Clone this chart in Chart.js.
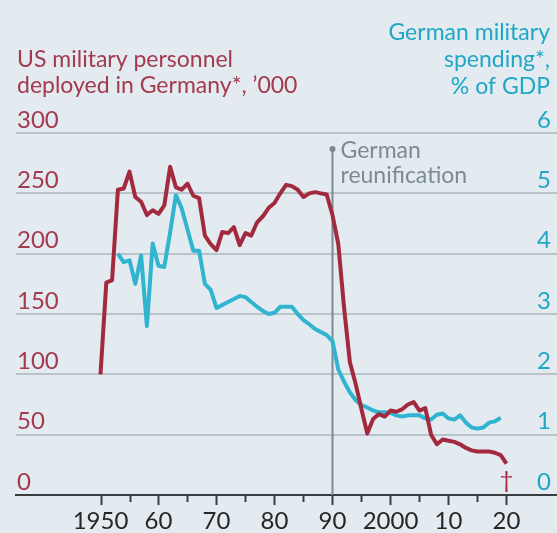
<!DOCTYPE html>
<html>
<head>
<meta charset="utf-8">
<script src="https://cdn.jsdelivr.net/npm/chart.js@4/dist/chart.umd.min.js"></script>
<style>
  html, body { margin: 0; padding: 0; background: #e3ebf1; }
  #wrap { width: 557px; height: 533px; }
</style>
</head>
<body>
<div id="wrap"><canvas id="myChart" width="557" height="533"></canvas></div>
<script>
// US military personnel deployed in Germany, '000
const usYears = [1950, 1951, 1952, 1953, 1954, 1955, 1956, 1957, 1958, 1959,
  1960, 1961, 1962, 1963, 1964, 1965, 1966, 1967, 1968, 1969,
  1970, 1971, 1972, 1973, 1974, 1975, 1976, 1977, 1978, 1979,
  1980, 1981, 1982, 1983, 1984, 1985, 1986, 1987, 1988, 1989,
  1990, 1991, 1992, 1993, 1994, 1995, 1996, 1997, 1998, 1999,
  2000, 2001, 2002, 2003, 2004, 2005, 2006, 2007, 2008, 2009,
  2010, 2011, 2012, 2013, 2014, 2015, 2016, 2017, 2018, 2019, 2020];
const usTroops = [100, 176, 178, 253, 254, 268, 247, 243, 232, 236,
  233, 240, 272, 255, 253, 258, 248, 246, 215, 208,
  203, 218, 217, 222, 207, 217, 215, 226, 231, 238,
  242, 250, 257, 256, 253, 247, 250, 251, 250, 249,
  232, 208, 155, 110, 92, 71, 51, 63, 67, 65,
  70, 69, 71, 75, 77, 70, 72, 50, 42, 46,
  45, 44, 42, 39, 37, 36, 36, 36, 35, 33, 26];

// German military spending, % of GDP
const deYears = [1953, 1954, 1955, 1956, 1957, 1958, 1959,
  1960, 1961, 1962, 1963, 1964, 1965, 1966, 1967, 1968, 1969,
  1970, 1971, 1972, 1973, 1974, 1975, 1976, 1977, 1978, 1979,
  1980, 1981, 1982, 1983, 1984, 1985, 1986, 1987, 1988, 1989,
  1990, 1991, 1992, 1993, 1994, 1995, 1996, 1997, 1998, 1999,
  2000, 2001, 2002, 2003, 2004, 2005, 2006, 2007, 2008, 2009,
  2010, 2011, 2012, 2013, 2014, 2015, 2016, 2017, 2018, 2019];
const deSpending = [4.0, 3.86, 3.89, 3.5, 3.97, 2.8, 4.17,
  3.8, 3.78, 4.35, 4.97, 4.75, 4.4, 4.05, 4.05, 3.5, 3.4,
  3.1, 3.15, 3.2, 3.25, 3.3, 3.28, 3.2, 3.12, 3.05, 3.0,
  3.02, 3.12, 3.12, 3.12, 3.0, 2.9, 2.83, 2.75, 2.7, 2.65,
  2.55, 2.08, 1.88, 1.7, 1.57, 1.49, 1.45, 1.4, 1.37, 1.37,
  1.36, 1.32, 1.3, 1.32, 1.32, 1.32, 1.27, 1.25, 1.33, 1.35,
  1.27, 1.25, 1.32, 1.2, 1.12, 1.1, 1.12, 1.2, 1.22, 1.28];

const xTickYears = [1950, 1960, 1970, 1980, 1990, 2000, 2010, 2020];
const xTickLabels = ['1950', '60', '70', '80', '90', '2000', '10', '20'];
const leftTicks = [0, 50, 100, 150, 200, 250, 300];
const rightTicks = [0, 1, 2, 3, 4, 5, 6];
const reunificationYear = 1990;

const RED = '#a3293f';
const RED_TEXT = '#a33a4d';
const CYAN = '#30b4cf';
const CYAN_TEXT = '#1ea7c6';
const GRID = '#b9c3ca';
const AXIS = '#3a3d40';
const NOTE = '#7b8a94';
const FONT = "'Lato', sans-serif";

const decor = {
  id: 'decor',
  beforeDraw(chart) {
    const ctx = chart.ctx;
    ctx.save();
    ctx.fillStyle = '#e3ebf1';
    ctx.fillRect(0, 0, chart.width, chart.height);
    ctx.restore();
  },
  beforeDatasetsDraw(chart) {
    const ctx = chart.ctx;
    const x = chart.scales.x;
    const area = chart.chartArea;
    const px = Math.round(x.getPixelForValue(reunificationYear)) + 0.5;
    ctx.save();
    ctx.strokeStyle = NOTE;
    ctx.lineWidth = 2;
    ctx.beginPath();
    ctx.moveTo(px, 149);
    ctx.lineTo(px, area.bottom);
    ctx.stroke();
    ctx.fillStyle = NOTE;
    ctx.beginPath();
    ctx.arc(px, 149, 3, 0, Math.PI * 2);
    ctx.fill();
    ctx.font = '23px ' + FONT;
    ctx.textAlign = 'left';
    ctx.textBaseline = 'alphabetic';
    ctx.fillText('German', px + 8, 158);
    ctx.fillText('reunification', px + 8, 183);
    ctx.restore();
  },
  afterDraw(chart) {
    const ctx = chart.ctx;
    const x = chart.scales.x;
    const y1 = chart.scales.y1;
    const area = chart.chartArea;
    ctx.save();
    // tick marks below the axis
    ctx.strokeStyle = AXIS;
    ctx.lineWidth = 2;
    for (let yr = 1950; yr <= 2020; yr += 5) {
      const px = Math.round(x.getPixelForValue(yr)) + 0.5;
      const len = yr % 10 === 0 ? 10 : 7;
      ctx.beginPath();
      ctx.moveTo(px, area.bottom);
      ctx.lineTo(px, area.bottom + len);
      ctx.stroke();
    }
    // right-hand axis labels
    ctx.font = '24px ' + FONT;
    ctx.fillStyle = CYAN_TEXT;
    ctx.textAlign = 'right';
    ctx.textBaseline = 'middle';
    rightTicks.forEach(v => {
      ctx.fillText(String(v), 551, y1.getPixelForValue(v) - 13);
    });
    // titles
    ctx.font = '23px ' + FONT;
    ctx.textBaseline = 'alphabetic';
    ctx.fillStyle = RED_TEXT;
    ctx.textAlign = 'left';
    ctx.fillText('US military personnel', 17, 67);
    ctx.fillText('deployed in Germany*, \u2019000', 17, 93);
    ctx.fillStyle = CYAN_TEXT;
    ctx.textAlign = 'right';
    ctx.fillText('German military', 550, 40);
    ctx.fillText('spending*,', 550, 67);
    ctx.fillText('% of GDP', 550, 94);
    // dagger note at the last year
    ctx.fillStyle = RED;
    ctx.textAlign = 'center';
    ctx.font = '24px ' + FONT;
    ctx.fillText('\u2020', x.getPixelForValue(2020), 488);
    ctx.restore();
  }
};

new Chart('myChart', {
  type: 'line',
  data: {
    datasets: [{
      label: 'US military personnel',
      data: usYears.map((yr, i) => ({ x: yr, y: usTroops[i] })),
      yAxisID: 'y',
      borderColor: RED,
      borderWidth: 4,
      borderJoinStyle: 'round',
      pointRadius: 0,
      tension: 0
    }, {
      label: 'German military spending',
      data: deYears.map((yr, i) => ({ x: yr, y: deSpending[i] })),
      yAxisID: 'y1',
      borderColor: CYAN,
      borderWidth: 4,
      borderJoinStyle: 'round',
      pointRadius: 0,
      tension: 0
    }]
  },
  options: {
    responsive: false,
    animation: false,
    layout: { padding: { left: 16, top: 133, right: 0, bottom: 0 } },
    plugins: {
      legend: { display: false },
      tooltip: { enabled: false }
    },
    scales: {
      x: {
        type: 'linear',
        min: 1935.43,
        max: 2028.71,
        afterBuildTicks: s => { s.ticks = xTickYears.map(v => ({ value: v })); },
        afterFit: s => { s.height = 38; },
        grid: { display: true, drawOnChartArea: false, drawTicks: false },
        border: { display: true, color: AXIS, width: 2 },
        ticks: {
          padding: 12,
          maxRotation: 0,
          autoSkip: false,
          color: '#262626',
          font: { family: FONT, size: 24 },
          callback: v => xTickLabels[xTickYears.indexOf(v)]
        }
      },
      y: {
        position: 'left',
        min: 0,
        max: 300,
        afterBuildTicks: s => { s.ticks = leftTicks.map(v => ({ value: v })); },
        afterFit: s => { s.width = 0; },
        border: { display: false },
        grid: {
          drawTicks: false,
          lineWidth: 2,
          color: c => (c.tick && c.tick.value === 0) ? 'rgba(0,0,0,0)' : GRID
        },
        ticks: {
          mirror: true,
          padding: 1,
          labelOffset: -13,
          color: RED_TEXT,
          font: { family: FONT, size: 24 }
        }
      },
      y1: {
        position: 'right',
        min: 0,
        max: 6,
        afterBuildTicks: s => { s.ticks = rightTicks.map(v => ({ value: v })); },
        afterFit: s => { s.width = 0; },
        border: { display: false },
        grid: { drawOnChartArea: false, drawTicks: false },
        ticks: { display: false }
      }
    }
  },
  plugins: [decor]
});
</script>
</body>
</html>
